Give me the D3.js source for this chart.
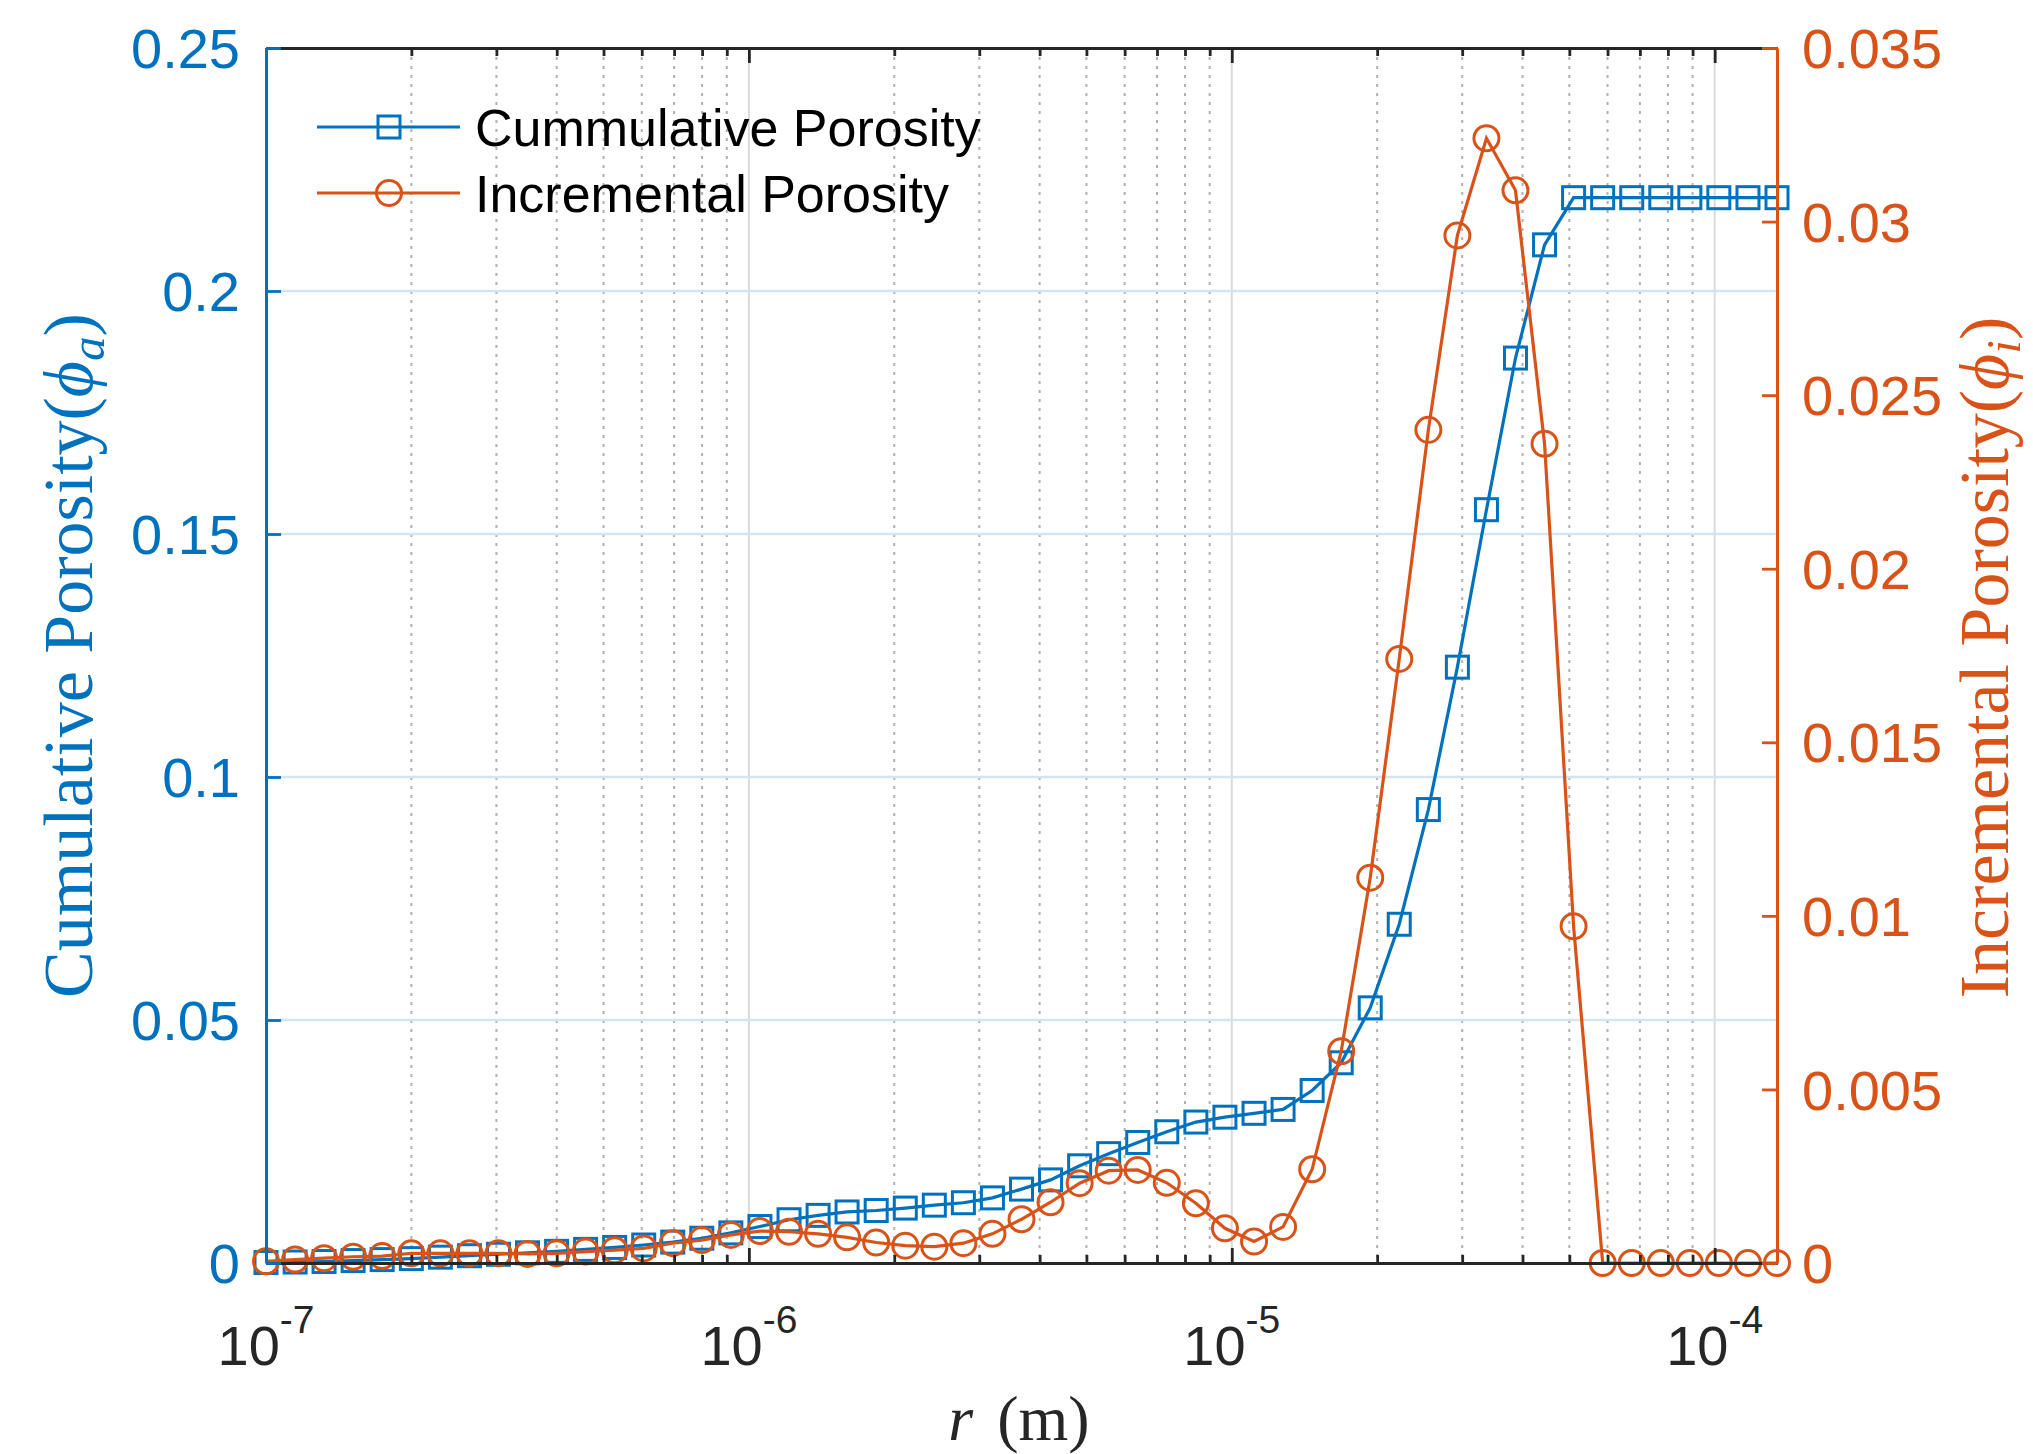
<!DOCTYPE html>
<html>
<head>
<meta charset="utf-8">
<script src="https://cdn.jsdelivr.net/npm/d3@7"></script>
<style>
  body { margin: 0; background: #fff; }
  svg { display: block; }
</style>
</head>
<body>
<svg id="chart" width="2033" height="1454"></svg>
<script>
// pore radius r (m)
const radius = [
  1.00e-7, 1.149e-7, 1.319e-7, 1.515e-7, 1.740e-7, 2.000e-7, 2.297e-7, 2.638e-7, 3.030e-7, 3.480e-7,
  3.997e-7, 4.590e-7, 5.273e-7, 6.056e-7, 6.955e-7, 7.989e-7, 9.176e-7, 1.054e-6, 1.211e-6, 1.391e-6,
  1.597e-6, 1.835e-6, 2.108e-6, 2.421e-6, 2.781e-6, 3.194e-6, 3.669e-6, 4.214e-6, 4.841e-6, 5.560e-6,
  6.386e-6, 7.335e-6, 8.426e-6, 9.678e-6, 1.112e-5, 1.277e-5, 1.467e-5, 1.685e-5, 1.935e-5, 2.222e-5,
  2.553e-5, 2.932e-5, 3.368e-5, 3.868e-5, 4.443e-5, 5.103e-5, 5.862e-5, 6.733e-5, 7.734e-5, 8.883e-5,
  1.020e-4, 1.172e-4, 1.346e-4
];

// cumulative porosity (left axis)
const cumulative = [
  0.0001, 0.0002, 0.0003, 0.0005, 0.0007, 0.0009, 0.0012, 0.0015, 0.0018, 0.0021,
  0.0024, 0.0028, 0.0032, 0.0037, 0.0043, 0.0051, 0.0062, 0.0075, 0.0089, 0.0098,
  0.0105, 0.0108, 0.0113, 0.0119, 0.0124, 0.0134, 0.0152, 0.0171, 0.0200, 0.0225,
  0.0248, 0.0270, 0.0290, 0.0300, 0.0308, 0.0316, 0.0355, 0.0412, 0.0525, 0.0697,
  0.0933, 0.1226, 0.1550, 0.1862, 0.2095, 0.2192, 0.2192, 0.2192, 0.2192, 0.2192,
  0.2192, 0.2192, 0.2192
];

// incremental porosity (right axis)
const incremental = [
  0.00005, 0.0001, 0.00014, 0.00018, 0.0002, 0.00028, 0.00028, 0.00028, 0.00028, 0.00026,
  0.00028, 0.00033, 0.00037, 0.00042, 0.00057, 0.00066, 0.00081, 0.00092, 0.0009, 0.00084,
  0.00074, 0.00059, 0.0005, 0.00047, 0.00057, 0.00084, 0.00126, 0.00175, 0.0023, 0.00266,
  0.00268, 0.00231, 0.00172, 0.001, 0.00062, 0.00104, 0.0027, 0.0061, 0.0111, 0.0174,
  0.0240, 0.0296, 0.0324, 0.0309, 0.0236, 0.0097, 0, 0, 0, 0,
  0, 0, 0
];

const leftTicks = [0, 0.05, 0.1, 0.15, 0.2, 0.25];
const leftTickLabels = ["0", "0.05", "0.1", "0.15", "0.2", "0.25"];
const rightTicks = [0, 0.005, 0.01, 0.015, 0.02, 0.025, 0.03, 0.035];
const rightTickLabels = ["0", "0.005", "0.01", "0.015", "0.02", "0.025", "0.03", "0.035"];
const xTickExponents = [-7, -6, -5, -4];
const seriesNames = ["Cummulative Porosity", "Incremental Porosity"];

const blue = "#0072BD";
const orange = "#D95319";
const axisDark = "#262626";

const plot = { left: 266, right: 1777, top: 48, bottom: 1263 };
const svg = d3.select("#chart");

const x = d3.scaleLog()
  .domain([radius[0], radius[radius.length - 1]])
  .range([plot.left, plot.right]);
const yLeft = d3.scaleLinear().domain([0, 0.25]).range([plot.bottom, plot.top]);
const yRight = d3.scaleLinear().domain([0, 0.035]).range([plot.bottom, plot.top]);

const majorX = xTickExponents.map(e => Math.pow(10, e));
const minorX = x.ticks().filter(v => {
  const m = Math.round(v / Math.pow(10, Math.floor(Math.log10(v) + 1e-9)));
  return m !== 1;
});

// grid
const grid = svg.append("g");
grid.selectAll(".minor").data(minorX).enter().append("line")
  .attr("x1", d => x(d)).attr("x2", d => x(d))
  .attr("y1", plot.top).attr("y2", plot.bottom)
  .attr("stroke", "#b0b0b0").attr("stroke-width", 2)
  .attr("stroke-dasharray", "3,6");
grid.selectAll(".major").data(majorX.filter(v => v > radius[0])).enter().append("line")
  .attr("x1", d => x(d)).attr("x2", d => x(d))
  .attr("y1", plot.top).attr("y2", plot.bottom)
  .attr("stroke", "#dadada").attr("stroke-width", 2);
grid.selectAll(".hgrid").data(leftTicks.slice(1, -1)).enter().append("line")
  .attr("x1", plot.left).attr("x2", plot.right)
  .attr("y1", d => yLeft(d)).attr("y2", d => yLeft(d))
  .attr("stroke", "#d3e5f2").attr("stroke-width", 2.5);

// series
const cumData = radius.map((r, i) => [r, cumulative[i]]);
const incData = radius.map((r, i) => [r, incremental[i]]);

const lineLeft = d3.line().x(d => x(d[0])).y(d => yLeft(d[1]));
const lineRight = d3.line().x(d => x(d[0])).y(d => yRight(d[1]));

const sq = 22, cr = 12.5, lw = 3.2, mw = 3;

svg.append("path").datum(cumData)
  .attr("d", lineLeft).attr("fill", "none")
  .attr("stroke", blue).attr("stroke-width", lw);
svg.append("g").selectAll("rect").data(cumData).enter().append("rect")
  .attr("x", d => x(d[0]) - sq / 2).attr("y", d => yLeft(d[1]) - sq / 2)
  .attr("width", sq).attr("height", sq)
  .attr("fill", "none").attr("stroke", blue).attr("stroke-width", mw);

svg.append("path").datum(incData)
  .attr("d", lineRight).attr("fill", "none")
  .attr("stroke", orange).attr("stroke-width", lw);
svg.append("g").selectAll("circle").data(incData).enter().append("circle")
  .attr("cx", d => x(d[0])).attr("cy", d => yRight(d[1])).attr("r", cr)
  .attr("fill", "none").attr("stroke", orange).attr("stroke-width", mw);

// axes
function styleAxis(g, color) {
  g.selectAll("path.domain").attr("stroke", color).attr("stroke-width", 3);
  g.selectAll(".tick line").attr("stroke", color).attr("stroke-width", 2.8);
  g.selectAll(".tick text").remove();
}

[[d3.axisBottom, plot.bottom], [d3.axisTop, plot.top]].forEach(([fn, yPos]) => {
  svg.append("g").attr("transform", `translate(0,${yPos})`)
    .call(fn(x).tickValues(minorX).tickSizeInner(-8).tickSizeOuter(0))
    .call(g => styleAxis(g, axisDark));
  svg.append("g").attr("transform", `translate(0,${yPos})`)
    .call(fn(x).tickValues(majorX).tickSizeInner(-15).tickSizeOuter(0))
    .call(g => styleAxis(g, axisDark));
});

svg.append("g").attr("transform", `translate(${plot.left},0)`)
  .call(d3.axisLeft(yLeft).tickValues(leftTicks).tickSizeInner(-15).tickSizeOuter(0))
  .call(g => styleAxis(g, blue));
svg.append("g").attr("transform", `translate(${plot.right},0)`)
  .call(d3.axisRight(yRight).tickValues(rightTicks).tickSizeInner(-15).tickSizeOuter(0))
  .call(g => styleAxis(g, orange));

// tick labels
const tickFont = "'Liberation Sans', Arial, Helvetica, sans-serif";

svg.append("g").selectAll("text").data(leftTicks).enter().append("text")
  .attr("x", plot.left - 26).attr("y", d => yLeft(d)).attr("dy", "0.36em")
  .attr("text-anchor", "end").attr("font-family", tickFont).attr("font-size", 56)
  .attr("fill", blue).text((d, i) => leftTickLabels[i]);

svg.append("g").selectAll("text").data(rightTicks).enter().append("text")
  .attr("x", plot.right + 25).attr("y", d => yRight(d)).attr("dy", "0.36em")
  .attr("text-anchor", "start").attr("font-family", tickFont).attr("font-size", 56)
  .attr("fill", orange).text((d, i) => rightTickLabels[i]);

const xLabels = svg.append("g").selectAll("text").data(xTickExponents).enter().append("text")
  .attr("x", d => x(Math.pow(10, d))).attr("y", 1365)
  .attr("text-anchor", "middle").attr("font-family", tickFont).attr("font-size", 56)
  .attr("fill", axisDark);
xLabels.append("tspan").text("10");
xLabels.append("tspan").attr("font-size", 39).attr("dy", -32).text(d => String(d));

// axis titles
const mathFont = "'Liberation Serif', 'Times New Roman', serif";

function addMathLabel(sel, word, sub) {
  sel.append("tspan").text(word + "(");
  sel.append("tspan").attr("font-style", "italic").text("\u03D5");
  sel.append("tspan").attr("font-style", "italic").attr("font-size", 49).attr("dy", 12).text(sub);
  sel.append("tspan").attr("dy", -12).text(")");
}

const midY = (plot.top + plot.bottom) / 2;

const yLabelL = svg.append("text")
  .attr("transform", `translate(92,${midY}) rotate(-90)`)
  .attr("text-anchor", "middle").attr("font-family", mathFont).attr("font-size", 70)
  .attr("fill", blue);
addMathLabel(yLabelL, "Cumulative Porosity", "a");

const yLabelR = svg.append("text")
  .attr("transform", `translate(2008,${midY + 2}) rotate(-90)`)
  .attr("text-anchor", "middle").attr("font-family", mathFont).attr("font-size", 70)
  .attr("fill", orange);
addMathLabel(yLabelR, "Incremental Porosity", "i");

const xLabel = svg.append("text")
  .attr("x", 1019).attr("y", 1440)
  .attr("text-anchor", "middle").attr("font-family", mathFont).attr("font-size", 64)
  .attr("fill", axisDark);
xLabel.append("tspan").attr("font-style", "italic").text("r");
xLabel.append("tspan").attr("dx", 24).text("(m)");

// legend
const legend = svg.append("g");
const legendRows = [
  { name: seriesNames[0], color: blue, marker: "square", y: 127 },
  { name: seriesNames[1], color: orange, marker: "circle", y: 193 }
];
legendRows.forEach(row => {
  legend.append("line")
    .attr("x1", 317).attr("x2", 460).attr("y1", row.y).attr("y2", row.y)
    .attr("stroke", row.color).attr("stroke-width", lw);
  if (row.marker === "square") {
    legend.append("rect")
      .attr("x", 389 - sq / 2).attr("y", row.y - sq / 2).attr("width", sq).attr("height", sq)
      .attr("fill", "none").attr("stroke", row.color).attr("stroke-width", mw);
  } else {
    legend.append("circle")
      .attr("cx", 389).attr("cy", row.y).attr("r", cr)
      .attr("fill", "none").attr("stroke", row.color).attr("stroke-width", mw);
  }
  legend.append("text")
    .attr("x", 475).attr("y", row.y + 19)
    .attr("font-family", tickFont).attr("font-size", 52).attr("fill", "#000")
    .text(row.name);
});
</script>
</body>
</html>
